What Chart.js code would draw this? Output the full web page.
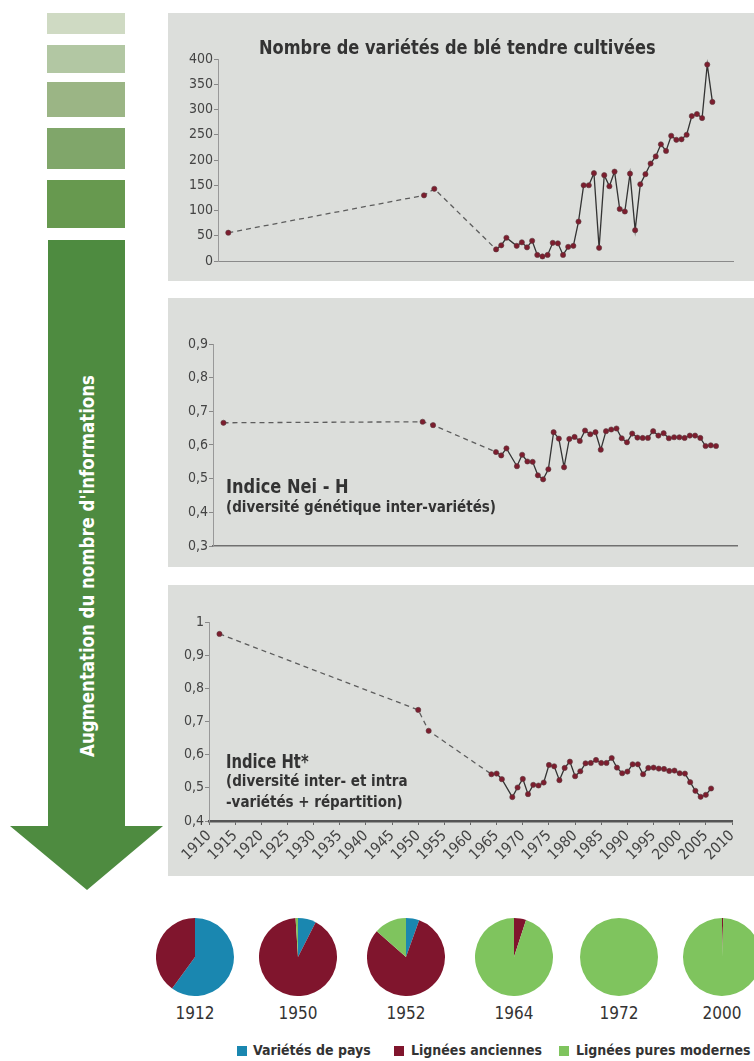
<!DOCTYPE html>
<html lang="fr">
<head>
<meta charset="utf-8">
<title>Variétés de blé tendre</title>
<script src="https://cdn.jsdelivr.net/npm/chart.js@4.4.0/dist/chart.umd.min.js"></script>
<style>
  body {
    margin: 0;
    width: 754px;
    height: 1061px;
    overflow: hidden;
    position: relative;
    background: #fff;
    color: #333;
    font-family: "Liberation Sans Narrow", "DejaVu Sans Condensed", "Liberation Sans", sans-serif;
  }
  .abs { position: absolute; }
  .panel { position: absolute; left: 168px; width: 586px; background: #dcdedb; }
  .box { position: absolute; left: 47px; width: 78px; }
  .titre { font-weight: bold; white-space: nowrap; line-height: 1; transform-origin: 0 0; }
  .annee { width: 80px; text-align: center; font-size: 17px; color: #333; }
  .carre { position: absolute; top: 1046px; width: 10px; height: 10px; }
  .leg { position: absolute; top: 1042px; font-size: 14px; font-weight: bold; white-space: nowrap; line-height: 1.2; }
</style>
</head>
<body>

<!-- colonne de gauche : degradé + fleche -->
<div class="box" style="top:13px;height:21px;background:#cfdac3"></div>
<div class="box" style="top:45px;height:28px;background:#b2c7a3"></div>
<div class="box" style="top:82px;height:35px;background:#9bb585"></div>
<div class="box" style="top:128px;height:41px;background:#80a66a"></div>
<div class="box" style="top:180px;height:48px;background:#67994f"></div>
<svg class="abs" style="left:0;top:0" width="170" height="900">
  <polygon points="48,240 125,240 125,826 163,826 87,890 10,826 48,826" fill="#4e8b40" />
</svg>
<div class="abs titre" style="left:87px;top:566px;color:#fff;font-size:19px;transform:translate(-50%,-50%) rotate(-90deg) scaleX(0.97);transform-origin:50% 50%">Augmentation du nombre d'informations</div>

<!-- panneaux gris -->
<div class="panel" style="top:13px;height:268px"></div>
<div class="panel" style="top:298px;height:269px"></div>
<div class="panel" style="top:585px;height:291px"></div>

<canvas id="nombre" class="abs" style="left:168px;top:13px" width="586" height="268"></canvas>
<canvas id="nei" class="abs" style="left:168px;top:298px" width="586" height="269"></canvas>
<canvas id="ht" class="abs" style="left:168px;top:585px" width="586" height="291"></canvas>

<div class="abs titre" style="left:259px;top:37px;font-size:20px;transform:scaleX(0.9)">Nombre de variétés de blé tendre cultivées</div>
<div class="abs titre" style="left:226px;top:476px;font-size:20px;transform:scaleX(0.9)">Indice Nei - H</div>
<div class="abs titre" style="left:226px;top:500px;font-size:15px">(diversité génétique inter-variétés)</div>
<div class="abs titre" style="left:226px;top:751px;font-size:20px;transform:scaleX(0.82)">Indice Ht*</div>
<div class="abs titre" style="left:226px;top:774px;font-size:15px">(diversité inter- et intra</div>
<div class="abs titre" style="left:226px;top:795px;font-size:15px">-variétés + répartition)</div>

<!-- camemberts -->
<canvas id="p0" class="abs" width="78" height="78" style="left:156px;top:918px"></canvas>
<canvas id="p1" class="abs" width="78" height="78" style="left:259px;top:918px"></canvas>
<canvas id="p2" class="abs" width="78" height="78" style="left:367px;top:918px"></canvas>
<canvas id="p3" class="abs" width="78" height="78" style="left:475px;top:918px"></canvas>
<canvas id="p4" class="abs" width="78" height="78" style="left:580px;top:918px"></canvas>
<canvas id="p5" class="abs" width="78" height="78" style="left:683px;top:918px"></canvas>
<div id="annees-pie"></div>

<div class="carre" style="left:237px;background:#1a87b0"></div>
<div class="leg" style="left:253px">Variétés de pays</div>
<div class="carre" style="left:394px;background:#80152d"></div>
<div class="leg" style="left:411px">Lignées anciennes</div>
<div class="carre" style="left:559px;background:#7fc45e"></div>
<div class="leg" style="left:576px">Lignées pures modernes</div>

<script>
// annees communes aux trois courbes
const annees = [1912, 1950, 1952, 1964, 1965, 1966, 1968, 1969, 1970, 1971, 1972, 1973, 1974,
  1975, 1976, 1977, 1978, 1979, 1980, 1981, 1982, 1983, 1984, 1985, 1986, 1987, 1988, 1989,
  1990, 1991, 1992, 1993, 1994, 1995, 1996, 1997, 1998, 1999, 2000, 2001, 2002, 2003, 2004,
  2005, 2006];

const nombreVarietes = [56, 130, 143, 23, 31, 46, 30, 37, 27, 40, 12, 9, 12,
  36, 35, 12, 28, 30, 78, 150, 150, 174, 26, 170, 148, 177, 103, 98,
  173, 61, 152, 172, 193, 207, 231, 218, 248, 240, 241, 250, 287, 291, 283,
  389, 315];

const indiceNei = [0.666, 0.669, 0.659, 0.579, 0.569, 0.590, 0.537, 0.571, 0.551, 0.550, 0.510, 0.498, 0.528,
  0.638, 0.619, 0.534, 0.618, 0.624, 0.612, 0.643, 0.632, 0.638, 0.586, 0.641, 0.646, 0.649, 0.620, 0.608,
  0.634, 0.622, 0.621, 0.621, 0.641, 0.628, 0.635, 0.620, 0.623, 0.623, 0.621, 0.628, 0.628, 0.621, 0.597,
  0.599, 0.597];

const indiceHt = [0.964, 0.735, 0.672, 0.541, 0.543, 0.526, 0.472, 0.501, 0.527, 0.481, 0.509, 0.507, 0.516,
  0.569, 0.565, 0.523, 0.560, 0.579, 0.535, 0.550, 0.574, 0.575, 0.584, 0.575, 0.575, 0.590, 0.561, 0.544,
  0.549, 0.571, 0.571, 0.541, 0.560, 0.561, 0.558, 0.557, 0.551, 0.552, 0.544, 0.543, 0.517, 0.491, 0.473,
  0.479, 0.498];

// camemberts (% par type)
const anneesPie = ["1912", "1950", "1952", "1964", "1972", "2000"];
const varietesPays = [60, 7.5, 5.5, 0, 0, 0];
const ligneesAnciennes = [40, 91.5, 81, 5, 0, 0.5];
const ligneesModernes = [0, 1, 13.5, 95, 100, 99.5];
const couleursPie = ["#1a87b0", "#80152d", "#7fc45e"];

const police = "'Liberation Sans Narrow', 'DejaVu Sans Condensed', 'Liberation Sans', sans-serif";
const debutTrait = 1964; // avant : pointillés

function virgule(v) {
  if (v === 1) return "1";
  return v.toFixed(1).replace(".", ",");
}

function serie(valeurs) {
  return {
    data: annees.map(function (a, i) { return { x: a, y: valeurs[i] }; }),
    borderColor: "#333",
    borderWidth: 1.3,
    pointRadius: 2.6,
    pointBackgroundColor: "#7d1d2e",
    pointBorderColor: "#5a3a40",
    pointBorderWidth: 0.6,
    segment: {
      borderDash: function (ctx) { return ctx.p0.parsed.x < debutTrait ? [5, 4] : undefined; },
      borderColor: function (ctx) { return ctx.p0.parsed.x < debutTrait ? "#5d5d5d" : "#333"; }
    }
  };
}

function options(cfg) {
  return {
    responsive: false,
    animation: false,
    layout: { padding: { top: cfg.haut, right: cfg.droite, left: 0, bottom: 0 } },
    plugins: { legend: { display: false }, tooltip: { enabled: false } },
    scales: {
      x: {
        type: "linear",
        min: 1910,
        max: 2010,
        afterFit: function (s) { s.height = cfg.basX; },
        grid: { display: cfg.ticksX, drawOnChartArea: false, tickLength: 4, color: "#666" },
        border: { color: cfg.couleurX, width: cfg.epaisseurX },
        ticks: {
          display: cfg.ticksX,
          stepSize: 5,
          autoSkip: false,
          minRotation: 45,
          maxRotation: 45,
          padding: 2,
          color: "#444",
          font: { family: police, size: 15 },
          callback: function (v) { return String(v); }
        }
      },
      y: {
        min: cfg.min,
        max: cfg.max,
        afterFit: function (s) { s.width = cfg.gauche; },
        grid: { drawOnChartArea: false, tickLength: 4, color: "#888" },
        border: { color: "#999", width: 1 },
        ticks: {
          stepSize: cfg.pas,
          padding: 1,
          color: "#444",
          font: { family: police, size: 14 },
          callback: cfg.format
        }
      }
    }
  };
}

new Chart("nombre", {
  type: "line",
  data: { datasets: [serie(nombreVarietes)] },
  options: options({
    haut: 46, droite: 21, gauche: 50, basX: 20, min: 0, max: 400, pas: 50,
    ticksX: false, couleurX: "#8a8a8a", epaisseurX: 1,
    format: function (v) { return String(v); }
  })
});

new Chart("nei", {
  type: "line",
  data: { datasets: [serie(indiceNei)] },
  options: options({
    haut: 46, droite: 17, gauche: 45, basX: 21, min: 0.3, max: 0.9, pas: 0.1,
    ticksX: false, couleurX: "#707070", epaisseurX: 1.5,
    format: virgule
  })
});

new Chart("ht", {
  type: "line",
  data: { datasets: [serie(indiceHt)] },
  options: options({
    haut: 37, droite: 22, gauche: 41, basX: 55, min: 0.4, max: 1, pas: 0.1,
    ticksX: true, couleurX: "#555", epaisseurX: 2.5,
    format: virgule
  })
});

// les six camemberts
var centres = [195, 298, 406, 514, 619, 722];
anneesPie.forEach(function (an, i) {
  new Chart("p" + i, {
    type: "pie",
    data: {
      labels: ["Variétés de pays", "Lignées anciennes", "Lignées pures modernes"],
      datasets: [{
        data: [varietesPays[i], ligneesAnciennes[i], ligneesModernes[i]],
        backgroundColor: couleursPie,
        borderWidth: 0
      }]
    },
    options: {
      responsive: false,
      animation: false,
      plugins: { legend: { display: false }, tooltip: { enabled: false } }
    }
  });
  var d = document.createElement("div");
  d.className = "abs annee";
  d.style.left = (centres[i] - 40) + "px";
  d.style.top = "1003px";
  d.textContent = an;
  document.getElementById("annees-pie").appendChild(d);
});
</script>
</body>
</html>
